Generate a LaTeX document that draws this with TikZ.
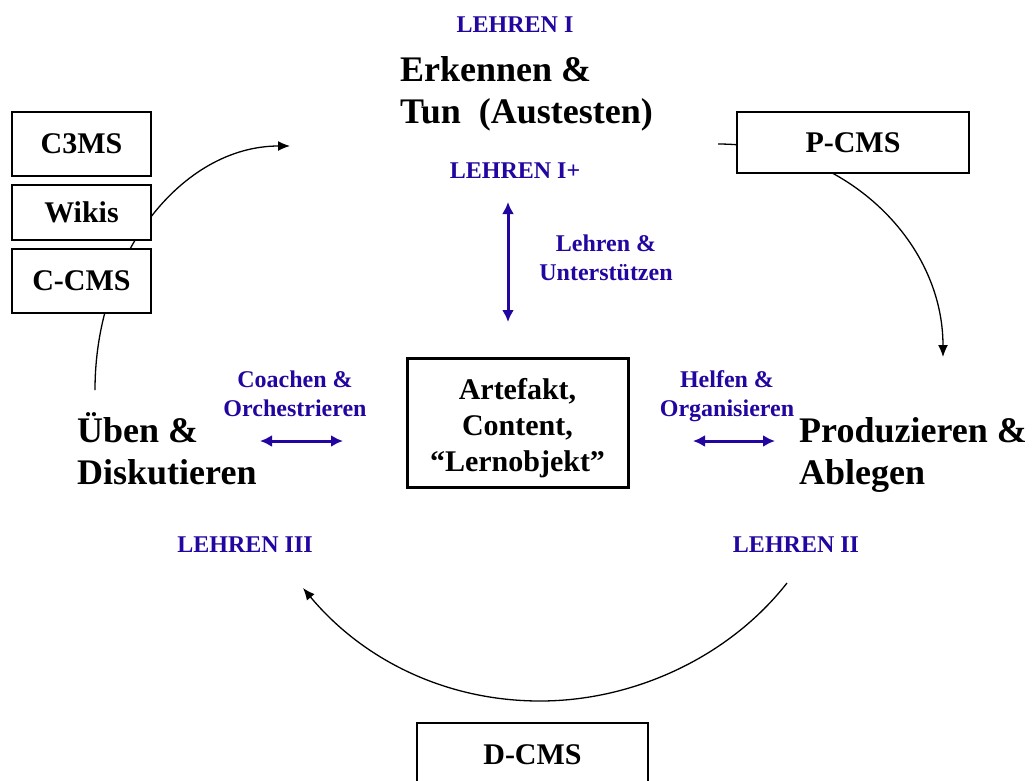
\documentclass[tikz,border=0pt]{standalone}
\usepackage{fontspec}
\setmainfont{Liberation Serif}
\usetikzlibrary{arrows.meta}
\definecolor{lblue}{RGB}{35,5,160}
\newcommand\twoL[2]{\begin{tabular}[t]{@{}l@{}}#1\\#2\end{tabular}}
\newcommand\twoC[2]{\begin{tabular}[t]{@{}c@{}}#1\\#2\end{tabular}}
\tikzset{
  bigtxt/.style={font=\fontsize{36}{42}\selectfont\bfseries, inner sep=0pt, anchor=base west},
  bluetxt/.style={font=\fontsize{24}{29}\selectfont\bfseries, text=lblue, inner sep=0pt, anchor=base},
  cmsbox/.style={draw, line width=1.5pt, fill=white, inner sep=0pt, font=\fontsize{30}{36}\selectfont\bfseries},
  cyclearc/.style={line width=1.3pt, -{Latex[length=12pt,width=10pt]}},
  bluearrow/.style={draw=lblue, line width=3pt, {Latex[length=12pt,width=12pt]}-{Latex[length=12pt,width=12pt]}}
}
\begin{document}
\begin{tikzpicture}[x=1pt,y=-1pt]
\useasboundingbox (0,0) rectangle (1034,780);
\clip (0,0) rectangle (1034,780);

% cycle arcs (drawn first, boxes cover parts of them)
\coordinate (la) at (95,390);
\coordinate (lb) at (290,146);
\draw[cyclearc] (la) .. controls (95,255) and (182,146) .. (lb);
\coordinate (ra) at (718,144);
\coordinate (rb) at (943,357);
\draw[cyclearc] (ra) .. controls (842,144) and (943,239) .. (rb);
\coordinate (ba) at (787,583);
\coordinate (bm) at (540,701);
\coordinate (bc) at (303,588);
\draw[cyclearc] (ba) .. controls (729,657) and (634,701) .. (bm) .. controls (446,701) and (363,660) .. (bc);

% CMS boxes
\node[cmsbox, minimum width=139pt, minimum height=64pt] (c3ms) at (81.5,144) {C3MS};
\node[cmsbox, minimum width=139pt, minimum height=55pt] (wikis) at (81.5,212.5) {Wikis};
\node[cmsbox, minimum width=139pt, minimum height=64pt] (ccms) at (81.5,281) {C-CMS};
\node[cmsbox, minimum width=232pt, minimum height=61pt] (pcms) at (853,142.5) {P-CMS};
\node[cmsbox, minimum width=231pt, minimum height=64pt] (dcms) at (532.5,755) {D-CMS};

% central artefact box
\node[draw, line width=3pt, fill=white, inner sep=0pt, minimum width=221pt, minimum height=129pt,
      font=\fontsize{30}{36}\selectfont\bfseries, text height=25.2pt, text depth=72.2pt] (art) at (517.5,422.5)
  {\begin{tabular}[t]{@{}c@{}}Artefakt,\\Content,\\“Lernobjekt”\end{tabular}};

% phase labels
\node[bigtxt] (erk) at (400,81) {\twoL{Erkennen \&}{Tun\ \ (Austesten)}};
\node[bigtxt] (uben) at (77,442) {\twoL{Üben \&}{Diskutieren}};
\node[bigtxt] (prod) at (799,442) {\twoL{Produzieren \&}{Ablegen}};

% blue labels
\node[bluetxt] (l1) at (515,32) {LEHREN I};
\node[bluetxt] (l1p) at (515,178) {LEHREN I+};
\node[bluetxt] (l3) at (245,552) {LEHREN III};
\node[bluetxt] (l2) at (796,552) {LEHREN II};
\node[bluetxt] (lu) at (606,251) {\twoC{Lehren \&}{Unterstützen}};
\node[bluetxt] (co) at (295,387) {\twoC{Coachen \&}{Orchestrieren}};
\node[bluetxt] (ho) at (727,387) {\twoC{Helfen \&}{Organisieren}};

% blue double arrows
\coordinate (v1) at (508,202);
\coordinate (v2) at (508,322);
\draw[bluearrow] (v1) -- (v2);
\coordinate (h1) at (260,441);
\coordinate (h2) at (343,441);
\draw[bluearrow] (h1) -- (h2);
\coordinate (h3) at (693,441);
\coordinate (h4) at (775,441);
\draw[bluearrow] (h3) -- (h4);
\end{tikzpicture}
\end{document}
